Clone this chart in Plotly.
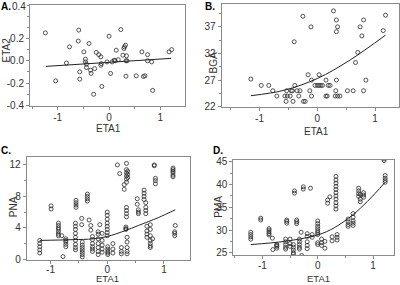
import plotly.graph_objects as go

# ---------------- Panel A: ETA2 vs ETA1 ----------------
A_x = [-1.24, -1.04, -0.83, -0.77, -0.59, -0.60, -0.57, -0.57, -0.49, -0.46, -0.46, -0.44, -0.44,
       -0.39, -0.36, -0.35, -0.28, -0.30, -0.25, -0.20, -0.16, -0.14, -0.16, -0.15, -0.04, 0.00,
       0.03, 0.06, 0.10, 0.12, 0.14, 0.18, 0.23, 0.27, 0.29, 0.30, 0.32, 0.33, 0.33, 0.34, 0.35,
       0.53, 0.64, 0.67, 0.70, 0.75, 0.75, 0.83, 0.85, 1.17, 1.22]
A_y = [0.25, -0.18, -0.02, 0.125, 0.275, 0.177, -0.099, -0.164, 0.08, 0.015, -0.01, -0.03, -0.06,
       0.155, -0.084, -0.113, -0.07, -0.30, 0.075, 0.055, 0.036, -0.23, -0.04, -0.025, -0.01, 0.22,
       -0.113, -0.01, 0.005, 0.0, 0.095, 0.01, 0.28, 0.05, 0.11, 0.125, 0.14, -0.138, 0.0, 0.045, 0.0,
       -0.135, 0.08, -0.14, -0.135, 0.055, 0.0, -0.01, -0.265, 0.08, 0.1]
A_fit_x = [-1.23, 1.21]
A_fit_y = [-0.05, 0.022]

# ---------------- Panel B: BGA vs ETA1 ----------------
B_x = [-1.15, -0.97, -0.84, -0.77, -0.70, -0.56, -0.53, -0.52, -0.54, -0.45, -0.43, -0.47, -0.42,
       -0.39, -0.40, -0.35, -0.30, -0.32, -0.25, -0.24, -0.21, -0.16, -0.13, -0.11, -0.10, -0.10,
       -0.04, 0.00, 0.03, 0.03, 0.06, 0.09, 0.15, 0.17, 0.15, 0.19, 0.22, 0.28, 0.31, 0.32, 0.33,
       0.33, 0.33, 0.35, 0.35, 0.39, 0.52, 0.62, 0.66, 0.70, 0.74, 0.77, 0.80, 0.80, 0.84, 1.14, 1.18]
B_y = [27.2, 26, 26, 25, 24, 24, 25, 24, 23, 25, 25, 24, 23,
       26, 34.2, 25, 25, 24, 39, 23, 23, 28, 25, 37, 27, 24,
       26, 26, 28, 26, 26, 26, 24, 24, 27, 26, 26, 40, 24, 25, 27,
       36.1, 38.3, 37, 24, 24, 25, 25, 30.3, 32.2, 37, 35.3, 38.3, 25, 27, 36.3, 39.2]
B_fit_x = [-1.15, -0.57, 0.0, 0.57, 1.18]
B_fit_y = [24.06, 25.1, 27.3, 30.8, 35.45]

# ---------------- Panel C: PNA vs ETA1 (repeated measures per subject) ----------------
C_col_x = [-1.19, -0.99, -0.86, -0.80, -0.78, -0.73, -0.55, -0.56, -0.45, -0.44, -0.35, -0.32,
           -0.29, -0.26, -0.16, -0.13, -0.09, 0.00, 0.01, 0.10, 0.18, 0.22, 0.25, 0.30, 0.34,
           0.36, 0.34, 0.33, 0.35, 0.53, 0.55, 0.65, 0.68, 0.70, 0.76, 0.83, 0.85, 0.80, 1.16,
           1.20, 1.19]
C_col_y = [[2.4, 2.0, 1.6, 1.2, 0.8], [6.8, 6.4], [4.6, 4.3, 4.0, 3.8, 3.5, 3.2, 3.0], [3.0],
           [0.35], [2.6, 2.4, 2.2, 1.9, 1.6], [7.5, 7.2, 6.9, 6.6],
           [4.6, 4.2, 3.8, 3.3, 2.8, 2.4, 1.9, 1.5, 1.2], [4.4, 5.2],
           [2.2, 1.8, 1.5, 1.2, 0.9, 0.6, 0.3], [8.3, 8.0, 7.7, 7.4], [5.0], [3.7, 4.3],
           [2.9, 2.5, 2.0, 1.6, 1.3, 1.0], [3.5, 3.2, 2.6, 2.0, 1.5, 1.0, 0.6], [4.4],
           [3.3, 2.4, 1.8, 1.3, 0.9], [6.0, 5.6, 5.1, 4.6, 4.2, 3.8, 3.4, 3.0],
           [1.6, 1.3, 1.0, 0.8, 0.6], [2.0, 1.3, 0.8], [12.0], [10.9], [1.5, 1.0, 0.7],
           [9.5, 8.9], [12.2, 11.4, 11.0, 10.6, 10.2, 9.8], [11.2, 10.8, 10.4],
           [6.6, 6.2, 5.8, 5.4], [4.1, 3.9, 3.8], [2.8, 2.2, 1.5, 1.0, 0.7], [7.7, 7.0],
           [6.3, 6.0, 5.8], [8.8, 8.4, 8.0, 7.6], [7.2, 6.6, 6.2, 5.8], [4.2, 3.6, 3.2, 2.8],
           [4.4, 3.8, 3.0, 2.4, 2.0, 1.7, 1.5], [12.0, 11.9], [10.3, 10.0, 9.6], [2.6],
           [11.6, 11.4, 11.2, 11.0, 10.7, 10.5], [4.3], [3.5, 3.3, 3.0]]
C_fit_x = [-1.19, -0.6, -0.25, 0.0, 0.3, 0.55, 0.9, 1.2]
C_fit_y = [2.4, 2.5, 2.6, 2.9, 3.6, 4.3, 5.3, 6.3]

# ---------------- Panel D: PMA vs ETA1 ----------------
D_col_x = [-1.21, -1.03, -0.88, -0.82, -0.81, -0.74, -0.56, -0.58, -0.50, -0.44, -0.42, -0.38,
           -0.33, -0.29, -0.30, -0.26, -0.19, -0.13, -0.10, 0.0, 0.0, 0.07, 0.13, 0.18, 0.22,
           0.26, 0.33, 0.35, 0.55, 0.64, 0.74, 0.77, 0.83, 1.20, 1.22]
D_col_y = [[29.5, 29.0, 28.5, 28.0], [32.6, 32.2], [30.3, 30.0, 29.6, 29.2, 28.9], [28.2], [25.7],
           [26.8, 26.4, 26.0, 26.6], [32.2, 31.9, 31.5], [28.0, 27.4, 26.8, 26.2, 25.8],
           [28.0, 27.0, 26.4], [26.8, 26.2, 25.6, 25.0, 24.7], [38.6, 38.1], [32.2, 31.8, 31.4],
           [28.0, 27.4, 26.8, 26.2, 25.8], [24.4], [29.5], [39.5, 39.0],
           [29.2, 28.6, 27.4, 26.6, 25.9], [39.2], [29.0, 28.4],
           [32.0, 31.4, 30.8, 30.3, 29.8, 29.4, 29.0], [27.2, 26.8], [28.0, 27.2, 26.6],
           [26.0, 27.5], [36.6, 35.9], [37.3], [28.5, 27.6],
           [41.8, 41.0, 40.3, 39.6, 38.9, 38.2, 37.5, 36.8, 36.0, 35.3, 34.6], [29.0, 28.4, 27.8],
           [32.4, 31.8, 31.2, 30.8], [33.6, 32.8, 32.0, 31.5, 31.0], [39.2, 38.6, 38.0, 37.4],
           [36.8, 36.2, 37.8], [38.2, 37.7, 37.2], [45.6, 45.3], [42.0, 41.4, 40.9, 40.5]]
D_fit_x = [-1.21, -0.6, 0.0, 0.3, 0.64, 0.9, 1.22]
D_fit_y = [26.8, 27.5, 28.9, 30.5, 33.4, 36.3, 40.5]


def flatten(cx, cy):
    xs, ys = [], []
    for x, col in zip(cx, cy):
        for v in col:
            xs.append(x)
            ys.append(v)
    return xs, ys


C_x, C_y = flatten(C_col_x, C_col_y)
D_x, D_y = flatten(D_col_x, D_col_y)

W, H = 400, 285
FONT = "Liberation Sans, Arial, sans-serif"
TXT = "#333333"
LINE = "#8a8a8a"

fig = go.Figure()

marker = dict(symbol="circle-open", size=4, color="#2a2a2a", line=dict(width=0.8))
panels = [
    (A_x, A_y, A_fit_x, A_fit_y, "x", "y"),
    (B_x, B_y, B_fit_x, B_fit_y, "x2", "y2"),
    (C_x, C_y, C_fit_x, C_fit_y, "x3", "y3"),
    (D_x, D_y, D_fit_x, D_fit_y, "x4", "y4"),
]
for px, py, fx, fy, xa, ya in panels:
    fig.add_trace(go.Scatter(x=px, y=py, mode="markers", marker=marker, xaxis=xa, yaxis=ya,
                             showlegend=False, hoverinfo="skip"))
    fig.add_trace(go.Scatter(x=fx, y=fy, mode="lines", line=dict(color="#222", width=1, shape="spline"),
                             xaxis=xa, yaxis=ya, showlegend=False, hoverinfo="skip"))


def dom_x(l, r):
    return [l / W, r / W]


def dom_y(t, b):
    return [1 - b / H, 1 - t / H]


def ax(domain, rng, tickvals, ticktext, minor_dtick, minor_t0, anchor, standoff=0):
    return dict(domain=domain, range=rng, anchor=anchor, showgrid=False, zeroline=False,
                automargin=False,
                showline=True, mirror=True, linecolor=LINE, linewidth=1,
                ticks="outside", ticklen=3, tickcolor=LINE, tickwidth=1,
                tickmode="array", tickvals=tickvals, ticktext=ticktext,
                ticklabelstandoff=standoff,
                tickfont=dict(family=FONT, size=10, color=TXT),
                minor=dict(ticks="outside", ticklen=2, tickcolor=LINE, dtick=minor_dtick,
                           tick0=minor_t0, showgrid=False))


xt = [-1, 0, 1]
xtt = ["-1", "0", "1"]

fig.update_layout(
    width=W, height=H, margin=dict(l=0, r=0, t=0, b=0, autoexpand=False),
    paper_bgcolor="white", plot_bgcolor="white",
    xaxis=ax(dom_x(30, 185), [-1.54, 1.48], xt, xtt, 0.5, 0, "y", -1),
    yaxis=ax(dom_y(5, 106), [-0.405, 0.5], [-0.4, -0.2, 0.0, 0.2], ["-0.4", "-0.2", "0.0", "0.2"], 0.1, 0, "x"),
    xaxis2=ax(dom_x(221.7, 399), [-1.654, 1.413], xt, xtt, 0.5, 0, "y2", -1),
    yaxis2=ax(dom_y(4, 106.7), [22, 41.3], [22, 27, 32, 37], ["22", "27", "32", "37"], 2.5, 22, "x2"),
    xaxis3=ax(dom_x(26.7, 190), [-1.42, 1.46], xt, xtt, 0.5, 0, "y3", -3),
    yaxis3=ax(dom_y(156.7, 260), [-0.09, 13.05], [0, 4, 8, 12], ["0", "4", "8", "12"], 2, 0, "x3"),
    xaxis4=ax(dom_x(233.3, 394.3), [-1.526, 1.385], xt, xtt, 0.5, 0, "y4", -2),
    yaxis4=ax(dom_y(160, 255), [24.5, 45.4], [25, 30, 35, 40, 45], ["25", "30", "35", "40", "45"], 2.5, 25, "x4"),
)


def ann(text, x, y, size=10, bold=False, angle=0, color=TXT, xanchor="center"):
    fig.add_annotation(text=f"<b>{text}</b>" if bold else text, x=x / W, y=1 - y / H,
                       xref="paper", yref="paper", showarrow=False, textangle=angle,
                       xanchor=xanchor, yanchor="middle", borderpad=0,
                       font=dict(family=FONT, size=size, color=color))


# panel letters
ann("A.", 0, 6.5, size=10, bold=True, color="#000", xanchor="left")
ann("B.", 204, 6.5, size=10, bold=True, color="#000", xanchor="left")
ann("C.", 0, 150, size=10, bold=True, color="#000", xanchor="left")
ann("D.", 212, 150.5, size=10, bold=True, color="#000", xanchor="left")
# oddly placed top label of panel A
ann("0.4", 26.5, 7, size=10, xanchor="right")
# axis titles
ann("ETA2", 5.5, 50, angle=-90)
ann("BGA", 212.5, 63, angle=-90)
ann("PNA", 13.5, 206.7, angle=-90)
ann("PMA", 219, 206.7, angle=-90)
ann("ETA1", 108, 128)
ann("ETA1", 316.7, 131)
ann("ETA1", 107.3, 278.5, size=9.5)
ann("ETA1", 318.3, 278.5, size=9.5)

fig.write_html("out.html", config={"displayModeBar": False},
               post_script="document.body.style.margin='0px';document.body.style.overflow='hidden';")
